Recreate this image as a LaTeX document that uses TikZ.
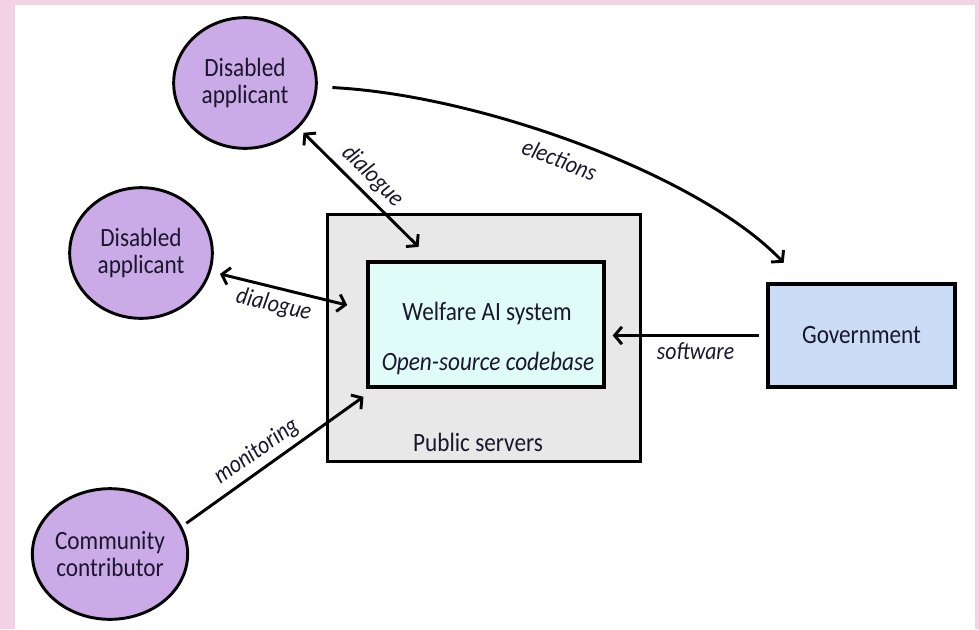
\documentclass[tikz,border=0pt]{standalone}
\usepackage{fontspec}
\setmainfont[FakeStretch=0.88]{Carlito}
\usetikzlibrary{arrows.meta,shapes.geometric}
\definecolor{pinkbg}{RGB}{244,210,230}
\definecolor{lavender}{RGB}{203,170,232}
\definecolor{servergray}{RGB}{232,232,232}
\definecolor{aicyan}{RGB}{224,252,248}
\definecolor{govblue}{RGB}{202,220,246}
\definecolor{textink}{RGB}{26,22,44}

\begin{document}
\begin{tikzpicture}[x=0.75pt,y=0.75pt,yscale=-1,xscale=1,
    >={Straight Barb[length=5.5pt,width=13pt]},
    actor/.style={ellipse,draw,line width=2.2pt,fill=lavender,minimum width=107pt,minimum height=98pt,inner sep=0pt,align=center,text=textink,font=\fontsize{19.8}{20.3}\selectfont},
    box/.style={rectangle,draw,inner sep=0pt},
    txt/.style={inner sep=0.75pt,text=textink,font=\fontsize{19.8}{20.3}\selectfont},
    flow/.style={line width=2.2pt},
    flowlbl/.style={inner sep=4pt,text=textink,font=\fontsize{18.5}{20}\selectfont\itshape}]
% page
\fill[pinkbg] (0,0) rectangle (979,629);
\fill[white] (15,5) rectangle (975,629);
% boxes
\node[box,fill=servergray,line width=2pt,minimum width=234.75pt,minimum height=185.25pt] (servers) at (484,338) {};
\node[box,fill=aicyan,line width=3pt,minimum width=177pt,minimum height=93.75pt] (ai) at (486,324.5) {};
\node[box,fill=govblue,line width=3pt,txt,minimum width=140.25pt,minimum height=77.25pt] (gov) at (861.5,335.5) {Government};
\node[txt] (ainame) at (487,313) {Welfare AI system};
\node[txt,font=\fontsize{19.8}{20.3}\selectfont\itshape] (aicode) at (488,363) {Open-source codebase};
\node[txt] (serverlbl) at (478,442) {Public servers};
% people
\node[actor] (appA) at (245,83) {Disabled\\applicant};
\node[actor] (appB) at (141,253) {Disabled\\applicant};
\node[actor] (comm) at (110,554) {Community\\contributor};
% flows
\draw[flow,->,shorten <=11pt,shorten >=20pt] (appA.-3) .. controls (480,95) and (700,175) .. (gov.138) node[flowlbl,inner sep=7pt,pos=0.47,rotate=-21,anchor=north] (electlbl) {elections};
\draw[flow,<->,shorten <=5pt,shorten >=14pt] (appA.-40) -- (ai.130) node[flowlbl,pos=0.46,rotate=-45,anchor=south] (dlgAlbl) {dialogue};
\draw[flow,<->,shorten <=7pt,shorten >=14.5pt] (appB.-15) -- (ai.173) node[flowlbl,pos=0.43,rotate=-13,anchor=north] (dlgBlbl) {dialogue};
\draw[flow,->,shorten <=5pt,shorten >=5pt] (gov.west) -- (gov.west -| ai.east) node[flowlbl,pos=0.44,below] (softlbl) {software};
\draw[flow,->,shorten <=4pt,shorten >=10pt] (comm.21) -- (ai.210) node[flowlbl,pos=0.44,rotate=35,anchor=south] (monlbl) {monitoring};
\end{tikzpicture}
\end{document}
